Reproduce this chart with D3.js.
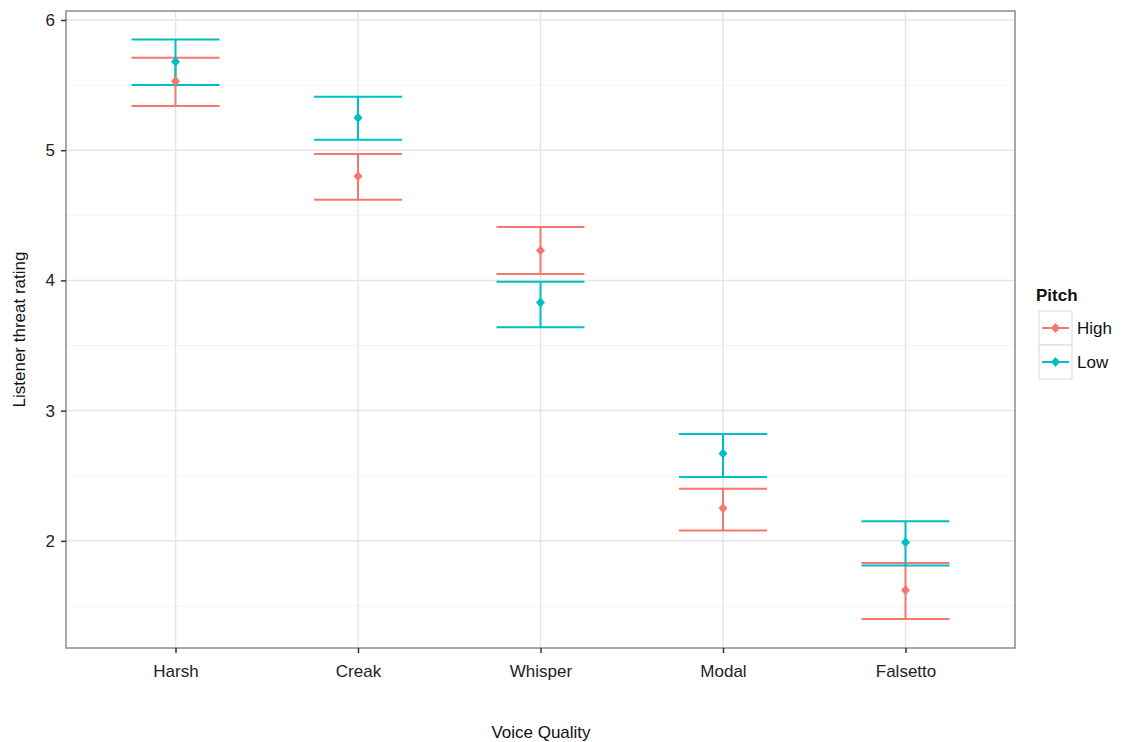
<!DOCTYPE html>
<html>
<head>
<meta charset="utf-8">
<script src="https://cdn.jsdelivr.net/npm/d3@7"></script>
<style>
  body { margin: 0; background: #fff; }
  text { font-family: "Liberation Sans", Arial, sans-serif; }
</style>
</head>
<body>
<svg width="1125" height="742"></svg>
<script>
// Data
var qualities = ["Harsh", "Creak", "Whisper", "Modal", "Falsetto"];
var pitches = ["High", "Low"];
var highMean  = [5.53, 4.80, 4.23, 2.25, 1.62];
var highLower = [5.34, 4.62, 4.05, 2.08, 1.40];
var highUpper = [5.71, 4.97, 4.41, 2.40, 1.83];
var lowMean   = [5.68, 5.25, 3.83, 2.67, 1.99];
var lowLower  = [5.50, 5.08, 3.64, 2.49, 1.81];
var lowUpper  = [5.85, 5.41, 3.99, 2.82, 2.15];
var yTicks = [2, 3, 4, 5, 6];

var colors = {High: "#F8766D", Low: "#00BFC4"};

var svg = d3.select("svg"),
    margin = {top: 11, right: 110, bottom: 94, left: 66},
    width = 1015 - margin.left,
    height = 648 - margin.top,
    g = svg.append("g")
      .attr("transform", "translate(" + margin.left + "," + margin.top + ")");

// Scales
var x = d3.scalePoint().domain(qualities).range([0, width]).padding(0.6);
var y = d3.scaleLinear().domain([1.177, 6.069]).range([height, 0]);

// Grid
var minor = d3.range(1.5, 6.1, 1);
g.selectAll(".minor").data(minor).enter().append("line")
  .attr("x1", 0).attr("x2", width)
  .attr("y1", function(d) { return y(d); }).attr("y2", function(d) { return y(d); })
  .attr("stroke", "#f4f4f4").attr("stroke-width", 1);
g.selectAll(".major").data(yTicks).enter().append("line")
  .attr("x1", 0).attr("x2", width)
  .attr("y1", function(d) { return y(d); }).attr("y2", function(d) { return y(d); })
  .attr("stroke", "#e6e6e6").attr("stroke-width", 1.5);
g.selectAll(".vgrid").data(qualities).enter().append("line")
  .attr("x1", function(d) { return x(d); }).attr("x2", function(d) { return x(d); })
  .attr("y1", 0).attr("y2", height)
  .attr("stroke", "#e6e6e6").attr("stroke-width", 1.5);

// Build rows
var rows = [];
qualities.forEach(function(q, i) {
  rows.push({q: q, p: "High", m: highMean[i], lo: highLower[i], hi: highUpper[i]});
  rows.push({q: q, p: "Low", m: lowMean[i], lo: lowLower[i], hi: lowUpper[i]});
});

var half = 44;
var eb = g.selectAll(".eb").data(rows).enter().append("g");
eb.append("line")
  .attr("x1", function(d) { return x(d.q); }).attr("x2", function(d) { return x(d.q); })
  .attr("y1", function(d) { return y(d.lo); }).attr("y2", function(d) { return y(d.hi); })
  .attr("stroke", function(d) { return colors[d.p]; }).attr("stroke-width", 2);
eb.append("line")
  .attr("x1", function(d) { return x(d.q) - half; }).attr("x2", function(d) { return x(d.q) + half; })
  .attr("y1", function(d) { return y(d.lo); }).attr("y2", function(d) { return y(d.lo); })
  .attr("stroke", function(d) { return colors[d.p]; }).attr("stroke-width", 2);
eb.append("line")
  .attr("x1", function(d) { return x(d.q) - half; }).attr("x2", function(d) { return x(d.q) + half; })
  .attr("y1", function(d) { return y(d.hi); }).attr("y2", function(d) { return y(d.hi); })
  .attr("stroke", function(d) { return colors[d.p]; }).attr("stroke-width", 2);

var diamond = "M0,-5L4.5,0L0,5L-4.5,0Z";
g.selectAll(".pt").data(rows).enter().append("path")
  .attr("d", diamond)
  .attr("transform", function(d) { return "translate(" + x(d.q) + "," + y(d.m) + ")"; })
  .attr("fill", function(d) { return colors[d.p]; });

// Panel border
g.append("rect")
  .attr("width", width).attr("height", height)
  .attr("fill", "none").attr("stroke", "#8c8c8c").attr("stroke-width", 1.5);

// Axes
var xAxis = g.append("g")
  .attr("transform", "translate(0," + height + ")")
  .call(d3.axisBottom(x).tickSize(5).tickPadding(12));
var yAxis = g.append("g")
  .call(d3.axisLeft(y).tickValues(yTicks).tickFormat(d3.format("d")).tickSize(5).tickPadding(6));
[xAxis, yAxis].forEach(function(a) {
  a.select(".domain").remove();
  a.selectAll(".tick line").attr("stroke", "#333").attr("stroke-width", 1.5);
  a.selectAll("text").attr("fill", "#222").style("font-size", "17px")
    .style("font-family", "Liberation Sans, Arial, sans-serif");
});

// Axis titles
svg.append("text")
  .attr("x", 541).attr("y", 738)
  .attr("text-anchor", "middle")
  .style("font-size", "17px").attr("fill", "#111")
  .text("Voice Quality");
svg.append("text")
  .attr("transform", "translate(25," + (margin.top + height / 2) + ") rotate(-90)")
  .attr("text-anchor", "middle")
  .style("font-size", "17px").attr("fill", "#111")
  .text("Listener threat rating");

// Legend
var legend = svg.append("g").attr("transform", "translate(1039,283)");
legend.append("text")
  .attr("x", -3).attr("y", 18)
  .style("font-size", "17px").style("font-weight", "bold").attr("fill", "#111")
  .text("Pitch");
var item = legend.selectAll(".item").data(pitches).enter().append("g")
  .attr("transform", function(d, i) { return "translate(0," + (28 + i * 34) + ")"; });
item.append("rect")
  .attr("width", 33).attr("height", 34)
  .attr("fill", "#fff").attr("stroke", "#d9d9d9").attr("stroke-width", 1);
item.append("line")
  .attr("x1", 3).attr("x2", 30).attr("y1", 17).attr("y2", 17)
  .attr("stroke", function(d) { return colors[d]; }).attr("stroke-width", 2);
item.append("path")
  .attr("d", diamond)
  .attr("transform", "translate(16.5,17)")
  .attr("fill", function(d) { return colors[d]; });
item.append("text")
  .attr("x", 38).attr("y", 23)
  .style("font-size", "17px").attr("fill", "#111")
  .text(function(d) { return d; });
</script>
</body>
</html>
